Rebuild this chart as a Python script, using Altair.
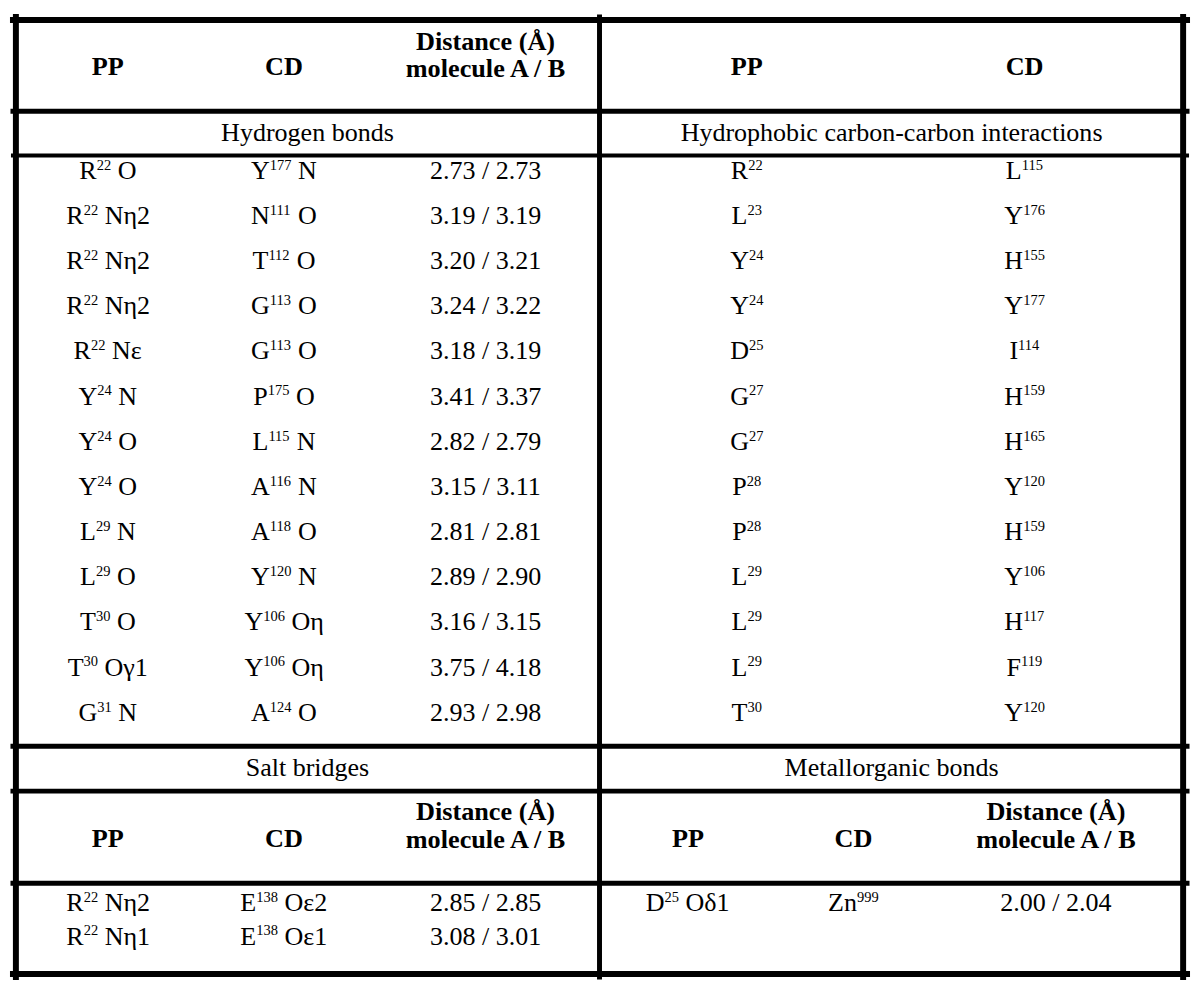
import re
import altair as alt
import pandas as pd

# ---------------- data ----------------
hb_pp = ["R22 O", "R22 Nη2", "R22 Nη2", "R22 Nη2", "R22 Nε", "Y24 N", "Y24 O",
         "Y24 O", "L29 N", "L29 O", "T30 O", "T30 Oγ1", "G31 N"]
hb_cd = ["Y177 N", "N111 O", "T112 O", "G113 O", "G113 O", "P175 O", "L115 N",
         "A116 N", "A118 O", "Y120 N", "Y106 Oη", "Y106 Oη", "A124 O"]
hb_dist = ["2.73 / 2.73", "3.19 / 3.19", "3.20 / 3.21", "3.24 / 3.22", "3.18 / 3.19",
           "3.41 / 3.37", "2.82 / 2.79", "3.15 / 3.11", "2.81 / 2.81", "2.89 / 2.90",
           "3.16 / 3.15", "3.75 / 4.18", "2.93 / 2.98"]
hc_pp = ["R22", "L23", "Y24", "Y24", "D25", "G27", "G27", "P28", "P28", "L29", "L29", "L29", "T30"]
hc_cd = ["L115", "Y176", "H155", "Y177", "I114", "H159", "H165", "Y120", "H159", "Y106",
         "H117", "F119", "Y120"]
sb_pp = ["R22 Nη2", "R22 Nη1"]
sb_cd = ["E138 Oε2", "E138 Oε1"]
sb_dist = ["2.85 / 2.85", "3.08 / 3.01"]
mo_pp = ["D25 Oδ1"]
mo_cd = ["Zn999"]
mo_dist = ["2.00 / 2.04"]

hdr_pp = "PP"
hdr_cd = "CD"
hdr_dist = ["Distance (Å)", "molecule A / B"]
titles = ["Hydrogen bonds", "Hydrophobic carbon-carbon interactions",
          "Salt bridges", "Metallorganic bonds"]

# ---------------- layout (reference pixel frame 1200 x 984) ----------------
W, H = 1200, 984
OUT_W, OUT_H = 1184, 968
PX = OUT_W / W                      # output px per reference unit

FS = 26.6                           # regular text size (reference units)
FS_B = 26.8                         # bold header size
FS_T = 27.0                         # section title size
FS_S = 14.8                         # superscript size
RAISE = 9.5                         # superscript raise

col_l = [97, 277, 483]
col_rt = [750, 1034]
col_rb = [690, 859, 1066]
row0, step = 157, 46.3
brow0, bstep = 908, 34

# approximate advance widths (em) of a Times-metric serif font
CW = {'A': .722, 'D': .722, 'E': .611, 'F': .556, 'G': .722, 'H': .722, 'I': .333,
      'L': .611, 'N': .722, 'O': .722, 'P': .556, 'R': .667, 'T': .611, 'Y': .722,
      'Z': .611, 'n': .5, ' ': .25, 'η': .5, 'ε': .44, 'γ': .45, 'δ': .5}
for d in "0123456789":
    CW[d] = .5

def width(s, fs):
    return sum(CW.get(c, .5) for c in s) * fs

def base_y(cy, fs):
    return cy + 0.331 * fs

plain, bold, pieces, sups = [], [], [], []

def add_plain(cx, cy, t, fs=FS):
    plain.append({"x": cx, "y": base_y(cy, fs), "t": t})

def add_bold(cx, cy, t):
    bold.append({"x": cx, "y": base_y(cy, FS_B), "t": t})

def add_label(cx, cy, label):
    m = re.match(r"^([A-Za-z]+)(\d+)(?: (.*))?$", label)
    b, s, rest = m.group(1), m.group(2), m.group(3)
    wb, ws = width(b, FS), width(s, FS_S)
    wr = width(" " + rest, FS) if rest else 0
    x0 = cx - (wb + ws + wr) / 2
    yb = base_y(cy, FS)
    pieces.append({"x": x0, "y": yb, "t": b})
    sups.append({"x": x0 + wb, "y": yb - RAISE, "t": s})
    if rest:
        pieces.append({"x": x0 + wb + ws + width(" ", FS), "y": yb, "t": rest})

# headers
add_bold(col_l[0], 51, hdr_pp); add_bold(col_l[1], 51, hdr_cd)
add_bold(col_l[2], 24.5, hdr_dist[0]); add_bold(col_l[2], 53, hdr_dist[1])
add_bold(col_rt[0], 51, hdr_pp); add_bold(col_rt[1], 51, hdr_cd)
for cols in [col_l, col_rb]:
    add_bold(cols[0], 842, hdr_pp); add_bold(cols[1], 842, hdr_cd)
    add_bold(cols[2], 814, hdr_dist[0]); add_bold(cols[2], 842.5, hdr_dist[1])

# section titles
add_plain(301, 118, titles[0], FS_T); add_plain(898, 118, titles[1], FS_T)
add_plain(301, 769, titles[2], FS_T); add_plain(898, 769, titles[3], FS_T)

for i in range(len(hb_pp)):
    y = row0 + i * step
    add_label(col_l[0], y, hb_pp[i]); add_label(col_l[1], y, hb_cd[i])
    add_plain(col_l[2], y, hb_dist[i])
    add_label(col_rt[0], y, hc_pp[i]); add_label(col_rt[1], y, hc_cd[i])
for i in range(len(sb_pp)):
    y = brow0 + i * bstep
    add_label(col_l[0], y, sb_pp[i]); add_label(col_l[1], y, sb_cd[i])
    add_plain(col_l[2], y, sb_dist[i])
for i in range(len(mo_pp)):
    y = brow0 + i * bstep
    add_label(col_rb[0], y, mo_pp[i]); add_label(col_rb[1], y, mo_cd[i])
    add_plain(col_rb[2], y, mo_dist[i])

lines = [
    {"x": 0, "x2": W, "y": 3, "y2": 3, "w": 6},
    {"x": 0, "x2": W, "y": 981, "y2": 981, "w": 6},
    {"x": 0, "x2": W, "y": 96.5, "y2": 96.5, "w": 5},
    {"x": 0, "x2": W, "y": 142, "y2": 142, "w": 4},
    {"x": 0, "x2": W, "y": 747.5, "y2": 747.5, "w": 5},
    {"x": 0, "x2": W, "y": 793.5, "y2": 793.5, "w": 5},
    {"x": 0, "x2": W, "y": 888, "y2": 888, "w": 5},
    {"x": 3, "x2": 3, "y": 0, "y2": H, "w": 6},
    {"x": 1196, "x2": 1196, "y": 0, "y2": H, "w": 6},
    {"x": 599.5, "x2": 599.5, "y": 0, "y2": H, "w": 5},
]

xs = alt.Scale(domain=[0, W], range=[0, OUT_W], nice=False, zero=False)
ys = alt.Scale(domain=[0, H], range=[0, OUT_H], nice=False, zero=False)
X = alt.X("x:Q", scale=xs, axis=None)
Y = alt.Y("y:Q", scale=ys, axis=None)

rules = alt.Chart(pd.DataFrame(lines)).mark_rule(color="black", strokeCap="square").encode(
    x=X, x2="x2:Q", y=Y, y2="y2:Q",
    strokeWidth=alt.StrokeWidth("w:Q", scale=None, legend=None),
)

font = "Liberation Serif, Times New Roman, Times, serif"
common = dict(font=font, color="black", baseline="alphabetic")

plain_l = alt.Chart(pd.DataFrame(plain)).mark_text(
    fontSize=FS * PX, align="center", **common).encode(x=X, y=Y, text="t:N")
bold_l = alt.Chart(pd.DataFrame(bold)).mark_text(
    fontSize=FS_B * PX, fontWeight="bold", align="center", **common).encode(x=X, y=Y, text="t:N")
piece_l = alt.Chart(pd.DataFrame(pieces)).mark_text(
    fontSize=FS * PX, align="left", **common).encode(x=X, y=Y, text="t:N")
sup_l = alt.Chart(pd.DataFrame(sups)).mark_text(
    fontSize=FS_S * PX, align="left", **common).encode(x=X, y=Y, text="t:N")

chart = alt.layer(rules, plain_l, bold_l, piece_l, sup_l).properties(
    width=OUT_W, height=OUT_H, padding=0, background="white"
).configure_view(stroke=None)

chart.save("out.html", embed_options={"renderer": "svg", "actions": False})
